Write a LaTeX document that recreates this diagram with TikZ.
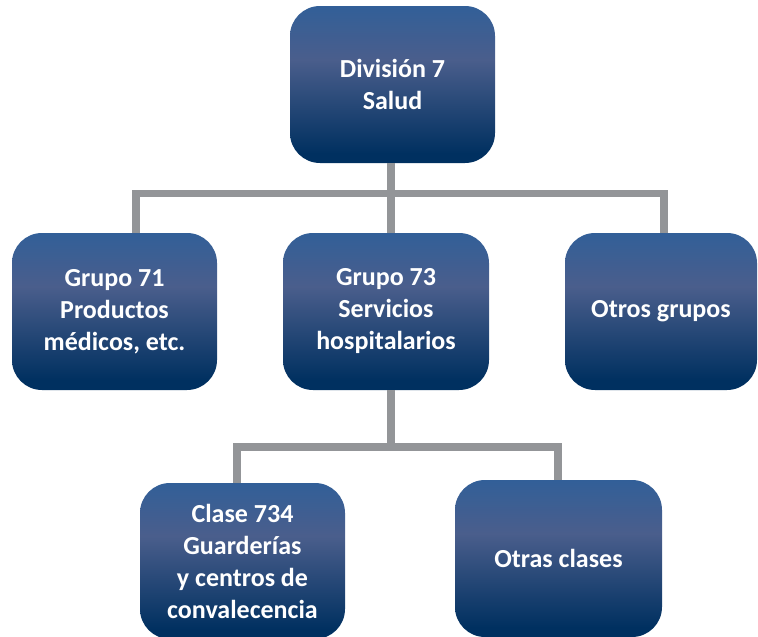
\documentclass[tikz,border=0pt]{standalone}
\usepackage{fontspec}
\setmainfont{Carlito}
\usepackage{xcolor}
\usepackage{tikz}
\definecolor{boxtop}{RGB}{50,95,152}
\definecolor{boxmid}{RGB}{74,94,140}
\definecolor{boxbot}{RGB}{0,48,96}
\definecolor{linegray}{RGB}{147,149,152}
\pgfdeclareverticalshading{boxshade}{100bp}{color(0bp)=(boxbot); color(28bp)=(boxbot); color(58bp)=(boxmid); color(75bp)=(boxtop); color(100bp)=(boxtop)}
\tikzset{
	orgbox/.style = {rounded corners = 30pt, shading = boxshade, minimum width = 205pt, minimum height = 157pt, text = white, align = center, font = \fontsize{26}{32}\selectfont\bfseries},
	conn/.style = {line width = 7.5pt, linegray}
}

\begin{document}
\begin{tikzpicture}[x = 1pt, y = -1pt]
			\useasboundingbox (0,0) rectangle (758,637);
			
			\node[orgbox] (div7) at (392.5,84.5) {División 7\\Salud};
			\node[orgbox] (g71) at (114.5,311.5) {Grupo 71\\Productos\\médicos, etc.};
			\node[orgbox, minimum width = 206pt] (g73) at (386,311.5) {Grupo 73\\Servicios\\hospitalarios};
			\node[orgbox, minimum width = 192pt] (otrosg) at (661,311.5) {Otros grupos};
			\node[orgbox, minimum height = 156pt] (c734) at (242.5,561) {Clase 734\\Guarderías\\y centros de\\convalecencia};
			\node[orgbox, minimum width = 207pt] (otrasc) at (558.5,558.5) {Otras clases};
			
			\draw[conn] ([xshift=-1.5]div7.south) -- ([xshift=5]g73.north);
			\draw[conn] ([xshift=21.5]g71.north) -- ++(0,-39.5) -| ([xshift=3]otrosg.north);
			
			\coordinate (bar2) at (391,447);
			\draw[conn] ([xshift=5]g73.south) -- (bar2);
			\draw[conn] ([xshift=-5.5]c734.north) |- (bar2) -| ([xshift=-0.5]otrasc.north);
			
			\end{tikzpicture}
\end{document}
